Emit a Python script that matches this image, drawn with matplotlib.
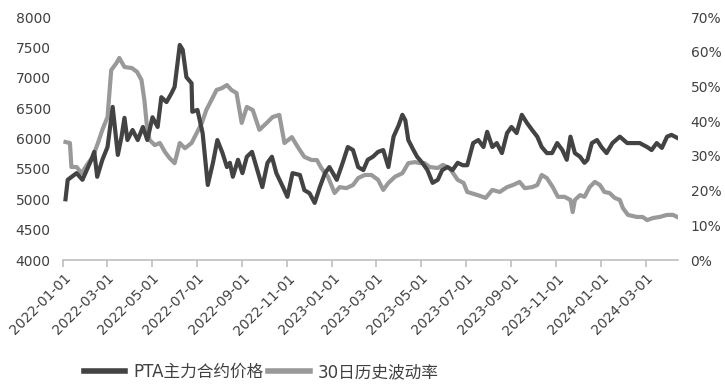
import matplotlib
matplotlib.use("Agg")
import matplotlib.pyplot as plt
import numpy as np
import pandas as pd

plt.rcParams['font.family'] = ['DejaVu Sans', 'Noto Sans CJK SC']

price_dates = ["2022-01-04","2022-01-07","2022-01-19","2022-01-27","2022-02-08","2022-02-12","2022-02-16","2022-02-23",
    "2022-03-02","2022-03-09","2022-03-16","2022-03-21","2022-03-25","2022-03-29","2022-04-05","2022-04-12","2022-04-19",
    "2022-04-25","2022-05-02","2022-05-09","2022-05-14","2022-05-21","2022-05-28","2022-06-01","2022-06-08","2022-06-12",
    "2022-06-17","2022-06-24","2022-06-25","2022-07-02","2022-07-09","2022-07-16","2022-07-23","2022-07-29","2022-08-05",
    "2022-08-11","2022-08-15","2022-08-19","2022-08-26","2022-09-01","2022-09-07","2022-09-14","2022-09-20","2022-09-28",
    "2022-10-05","2022-10-11","2022-10-17","2022-10-26","2022-11-01","2022-11-08","2022-11-18","2022-11-24","2022-12-01",
    "2022-12-08","2022-12-15","2022-12-22","2022-12-28","2023-01-07","2023-01-15","2023-01-22","2023-01-29","2023-02-05",
    "2023-02-12","2023-02-18","2023-02-25","2023-03-04","2023-03-11","2023-03-18","2023-03-25","2023-04-01","2023-04-06",
    "2023-04-10","2023-04-14","2023-04-21","2023-04-26","2023-05-03","2023-05-10","2023-05-17","2023-05-24","2023-05-30",
    "2023-06-06","2023-06-13","2023-06-20","2023-06-27","2023-07-03","2023-07-11","2023-07-18","2023-07-25","2023-07-30",
    "2023-08-06","2023-08-12","2023-08-19","2023-08-26","2023-09-01","2023-09-08","2023-09-15","2023-09-22","2023-09-29",
    "2023-10-06","2023-10-12","2023-10-19","2023-10-26","2023-11-02","2023-11-09","2023-11-15","2023-11-20","2023-11-26",
    "2023-12-03","2023-12-09","2023-12-13","2023-12-19","2023-12-26","2024-01-01","2024-01-08","2024-01-16","2024-01-26",
    "2024-02-05","2024-02-13","2024-02-22","2024-03-03","2024-03-09","2024-03-16","2024-03-23","2024-03-30","2024-04-05",
    "2024-04-13"]
price_values = [5000,5320,5430,5320,5650,5780,5370,5650,
    5860,6520,5730,6030,6340,5975,6140,5975,6190,
    5975,6350,6190,6680,6600,6750,6850,7540,7460,
    7010,6910,6440,6470,6090,5235,5600,5975,5760,
    5530,5600,5370,5650,5430,5700,5780,5530,5200,
    5600,5700,5430,5200,5040,5430,5400,5150,5100,
    4940,5200,5430,5530,5320,5600,5860,5810,5530,
    5480,5650,5700,5780,5810,5530,6030,6220,6390,
    6300,5975,5810,5700,5600,5480,5270,5320,5480,
    5530,5480,5600,5560,5560,5925,5975,5860,6110,
    5860,5925,5760,6090,6190,6090,6390,6255,6140,
    6030,5860,5760,5760,5925,5810,5650,6030,5760,
    5700,5600,5650,5925,5975,5860,5760,5925,6030,
    5925,5925,5925,5860,5810,5925,5845,6030,6060,
    6010]

vol_dates = ["2022-01-04","2022-01-10","2022-01-12","2022-01-19","2022-01-26","2022-02-02","2022-02-10","2022-02-17",
    "2022-02-23","2022-03-02","2022-03-07","2022-03-14","2022-03-18","2022-03-25","2022-04-04","2022-04-11","2022-04-17",
    "2022-04-21","2022-04-24","2022-04-28","2022-05-05","2022-05-12","2022-05-19","2022-05-25","2022-06-01","2022-06-08",
    "2022-06-15","2022-06-24","2022-07-01","2022-07-08","2022-07-14","2022-07-21","2022-07-28","2022-08-04","2022-08-11",
    "2022-08-17","2022-08-24","2022-08-31","2022-09-07","2022-09-15","2022-09-24","2022-10-04","2022-10-12","2022-10-21",
    "2022-10-28","2022-11-07","2022-11-15","2022-11-24","2022-12-04","2022-12-11","2022-12-17","2022-12-26","2023-01-04",
    "2023-01-11","2023-01-20","2023-01-29","2023-02-05","2023-02-14","2023-02-23","2023-03-04","2023-03-11","2023-03-18",
    "2023-03-27","2023-04-06","2023-04-14","2023-04-23","2023-04-30","2023-05-06","2023-05-13","2023-05-24","2023-05-31",
    "2023-06-09","2023-06-20","2023-06-28","2023-07-03","2023-07-17","2023-07-28","2023-08-06","2023-08-16","2023-08-26",
    "2023-09-03","2023-09-12","2023-09-19","2023-09-29","2023-10-06","2023-10-12","2023-10-19","2023-10-27","2023-11-03",
    "2023-11-12","2023-11-20","2023-11-23","2023-11-26","2023-12-03","2023-12-09","2023-12-16","2023-12-23","2023-12-30",
    "2024-01-05","2024-01-12","2024-01-19","2024-01-26","2024-01-30","2024-02-06","2024-02-18","2024-02-26","2024-03-03",
    "2024-03-11","2024-03-20","2024-03-30","2024-04-07","2024-04-13"]
vol_values = [34.0,33.7,26.8,26.8,25.0,27.4,29.7,33.7,
    37.5,41.2,54.7,56.7,58.2,55.6,55.3,54.2,51.9,
    46.1,39.5,34.6,33.1,33.7,31.1,29.4,27.9,33.7,
    32.2,33.7,36.6,39.5,43.2,46.1,49.0,49.5,50.4,
    49.0,48.1,39.5,44.1,43.2,37.5,39.5,41.2,41.8,
    33.7,35.4,32.6,29.7,28.8,28.8,26.5,24.0,19.3,
    21.0,20.7,21.6,23.6,24.5,24.5,23.1,20.2,22.2,
    24.0,25.0,27.9,28.2,27.9,27.9,26.8,26.5,27.4,
    26.5,23.1,22.2,19.6,18.7,17.9,20.2,19.6,21.0,
    21.6,22.5,20.7,21.0,21.6,24.5,23.6,21.0,18.2,
    18.2,17.3,13.8,17.3,18.7,18.2,21.0,22.5,21.6,
    19.6,19.3,17.9,17.3,15.0,13.0,12.4,12.4,11.5,
    12.1,12.4,13.0,13.0,12.4]

tick_labels = ["2022-01-01","2022-03-01","2022-05-01","2022-07-01","2022-09-01","2022-11-01","2023-01-01",
               "2023-03-01","2023-05-01","2023-07-01","2023-09-01","2023-11-01","2024-01-01","2024-03-01"]
series_names = ["PTA主力合约价格", "30日历史波动率"]

dark = "#434343"
light = "#999999"
axis_gray = "#bfbfbf"
text_col = "#404040"

fig = plt.figure(figsize=(7.25, 3.92), dpi=100)
ax = fig.add_axes([0.0873, 0.3367, 0.848, 0.6199])
ax2 = ax.twinx()

pd_price = pd.to_datetime(price_dates)
pd_vol = pd.to_datetime(vol_dates)
l1, = ax.plot(pd_price, price_values, color=dark, lw=3.0, solid_joinstyle='round', zorder=3)
l2, = ax2.plot(pd_vol, np.array(vol_values) / 100.0, color=light, lw=3.0, solid_joinstyle='round', zorder=2)
ax.set_zorder(ax2.get_zorder() + 1)
ax.patch.set_visible(False)

ax.set_ylim(4000, 8000)
ax.set_yticks(np.arange(4000, 8001, 500))
ax2.set_ylim(0, 0.7)
ax2.set_yticks(np.arange(0, 0.71, 0.1))
ax2.set_yticklabels([f"{int(round(v*100))}%" for v in np.arange(0, 0.71, 0.1)])

ax.set_xlim(pd.Timestamp("2022-01-01"), pd.Timestamp("2024-04-14"))
ax.set_xticks(pd.to_datetime(tick_labels))
ax.set_xticklabels(tick_labels, rotation=45, ha='right', rotation_mode='anchor')

for a in (ax, ax2):
    for s in ("top", "left", "right", "bottom"):
        a.spines[s].set_visible(False)
ax.spines["bottom"].set_visible(True)
ax.spines["bottom"].set_color(axis_gray)
ax.spines["bottom"].set_linewidth(1.2)

ax.tick_params(axis='x', colors=axis_gray, length=5, width=1.2, labelcolor=text_col, labelsize=10, pad=3)
ax.tick_params(axis='y', length=0, labelcolor=text_col, labelsize=10, pad=9)
ax2.tick_params(axis='y', length=0, labelcolor=text_col, labelsize=10, pad=9)

leg = fig.legend([l1, l2], series_names, loc='center', bbox_to_anchor=(0.36, 0.051), ncol=2,
                 frameon=False, fontsize=12, handlelength=2.5, handletextpad=0.45, columnspacing=0.3,
                 labelcolor=text_col)
for h in leg.get_lines():
    h.set_linewidth(4)

fig.savefig("out.png", dpi=100)
